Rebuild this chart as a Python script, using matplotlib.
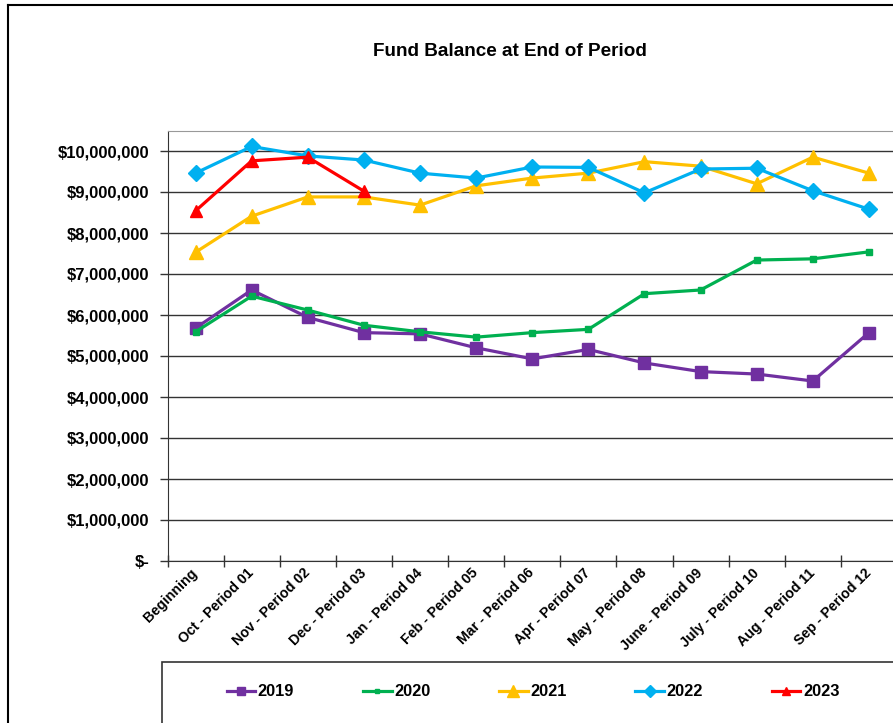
import matplotlib
matplotlib.use("Agg")
import matplotlib.pyplot as plt
from matplotlib.lines import Line2D
from matplotlib.patches import Rectangle
import numpy as np

plt.rcParams['font.family'] = ['Liberation Sans', 'DejaVu Sans']
plt.rcParams['font.weight'] = 'bold'

categories = ["Beginning", "Oct - Period 01", "Nov - Period 02", "Dec - Period 03",
              "Jan - Period 04", "Feb - Period 05", "Mar - Period 06", "Apr - Period 07",
              "May - Period 08", "June - Period 09", "July - Period 10", "Aug - Period 11",
              "Sep - Period 12"]

s2019 = [5.68, 6.61, 5.94, 5.57, 5.54, 5.20, 4.93, 5.16, 4.83, 4.62, 4.56, 4.39, 5.57]
s2020 = [5.59, 6.46, 6.12, 5.75, 5.59, 5.46, 5.57, 5.65, 6.52, 6.61, 7.34, 7.37, 7.54]
s2021 = [7.53, 8.41, 8.88, 8.88, 8.68, 9.15, 9.34, 9.46, 9.74, 9.63, 9.20, 9.85, 9.46]
s2022 = [9.46, 10.11, 9.88, 9.78, 9.46, 9.34, 9.61, 9.60, 8.98, 9.56, 9.58, 9.03, 8.58]
s2023 = [8.54, 9.76, 9.85, 9.02]

series_names = ["2019", "2020", "2021", "2022", "2023"]
series_vals = [s2019, s2020, s2021, s2022, s2023]
colors = ["#7030A0", "#00B050", "#FFC000", "#00B0F0", "#FF0000"]
markers = ["s", "s", "^", "D", "^"]
msizes = [8, 4, 10, 8, 8]

y_ticks = [0, 1e6, 2e6, 3e6, 4e6, 5e6, 6e6, 7e6, 8e6, 9e6, 10e6]

W, H = 893, 723
fig = plt.figure(figsize=(W / 100, H / 100), dpi=100)

ax_l, ax_r, ax_t, ax_b = 167.5, 897, 130.5, 561
ax = fig.add_axes([ax_l / W, 1 - ax_b / H, (ax_r - ax_l) / W, (ax_b - ax_t) / H])

x = np.arange(len(categories))
handles = []
for name, vals, c, m, ms in zip(series_names, series_vals, colors, markers, msizes):
    vv = np.array(vals) * 1e6
    h, = ax.plot(x[:len(vv)], vv, color=c, marker=m, markersize=ms, lw=2.3,
                 markeredgecolor=c, label=name, zorder=3)
    handles.append(h)

ax.set_xlim(-0.5, len(categories) - 0.5)
ax.set_ylim(0, 10.5e6)

ax.set_yticks(y_ticks)
ylabels = ["$-" if v == 0 else "${:,.0f}".format(v) for v in y_ticks]
ax.set_yticklabels(ylabels, fontsize=12, fontweight='bold')
ax.tick_params(axis='y', direction='out', length=6, width=1, color='#333333', pad=7)

ax.set_xticks(np.arange(-0.5, len(categories), 1.0))
ax.set_xticklabels([])
ax.tick_params(axis='x', which='major', direction='inout', length=8, width=1, color='#333333')
ax.set_xticks(x, minor=True)
ax.set_xticklabels(categories, minor=True, rotation=45, ha='right',
                   rotation_mode='anchor', fontsize=10.2, fontweight='bold')
ax.tick_params(axis='x', which='minor', length=0, pad=7)
for lab in ax.get_xticklabels(minor=True):
    lab.set_va('center')

ax.grid(axis='y', color='#333333', lw=1)
ax.set_axisbelow(True)
ax.spines['right'].set_visible(False)
ax.spines['top'].set_color('#999999')
ax.spines['left'].set_color('#333333')
ax.spines['bottom'].set_color('#333333')

fig.text(510 / W, 1 - 51 / H, "Fund Balance at End of Period", ha='center', va='center',
         fontsize=13.6, fontweight='bold')

# outer chart border
fig.add_artist(Line2D([8 / W, 8 / W], [0, 1 - 5 / H], color='black', lw=1.5, transform=fig.transFigure))
fig.add_artist(Line2D([8 / W, 1], [1 - 5 / H, 1 - 5 / H], color='black', lw=1.5, transform=fig.transFigure))

# legend box
fig.add_artist(Rectangle((162 / W, -0.01), 1, (723 - 662) / H + 0.01, transform=fig.transFigure,
                         fill=False, edgecolor='#333333', lw=1.2))
leg = fig.legend(handles=handles, loc='center', bbox_to_anchor=(533 / W, 1 - 692 / H),
                 ncol=5, frameon=False, fontsize=11.8, handlelength=1.75,
                 handletextpad=0.15, columnspacing=4.2, markerscale=0.8)
for t in leg.get_texts():
    t.set_fontweight('bold')

fig.savefig("out.png", dpi=100)
